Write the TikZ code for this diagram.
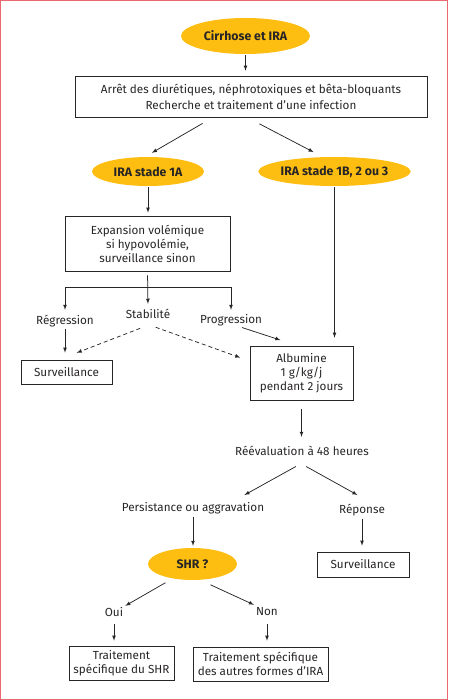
\documentclass[tikz,border=0pt]{standalone}
\usepackage{fontspec}
\setmainfont{Fira Sans}
\usetikzlibrary{shapes.geometric}
\tikzset{>=latex}
\definecolor{jaune}{RGB}{253,190,17}
\definecolor{gris}{RGB}{40,37,38}
\definecolor{cadre}{RGB}{236,104,112}
\tikzset{
  ovale/.style={ellipse,fill=jaune,inner sep=0pt,font=\fontsize{12.3}{14}\selectfont\bfseries},
  boite/.style={draw=gris,line width=0.7pt,align=center,inner sep=0pt},
  etiquette/.style={inner sep=2pt,text height=8pt,text depth=2pt},
  fleche/.style={->,draw=gris,line width=0.75pt},
  pointille/.style={fleche,dash pattern=on 4pt off 3pt}
}

\begin{document}
\begin{tikzpicture}[x=1pt,y=-1pt,font=\fontsize{11.7}{14}\selectfont,text=gris]
\useasboundingbox (0,0) rectangle (448,700);
\draw[cadre,line width=1pt] (0.5,0.5) rectangle (447.5,699.5); % 外框

% 节点
\node[ovale,minimum width=129pt,minimum height=36pt] (cirrhose) at (245.5,36) {Cirrhose et IRA};
\node[boite,minimum width=352pt,minimum height=41pt] (arret) at (251,96.5)
  {Arrêt des diurétiques, néphrotoxiques et bêta-bloquants\\[2pt]Recherche et traitement d’une infection};
\node[ovale,minimum width=112pt,minimum height=29pt] (ira1a) at (148,171.5) {IRA stade 1A};
\node[ovale,minimum width=141pt,minimum height=29pt] (ira1b) at (334.5,171.5) {IRA stade 1B, 2 ou 3};
\node[boite,minimum width=165pt,minimum height=55pt] (expansion) at (147.5,243.5)
  {Expansion volémique\\si hypovolémie,\\surveillance sinon};
\node[etiquette] (regression) at (65,321) {Régression};
\node[etiquette] (stabilite) at (148,315) {Stabilité};
\node[etiquette] (progression) at (231,320) {Progression};
\node[boite,minimum width=91pt,minimum height=24pt] (surveillanceA) at (66.5,372) {Surveillance};
\node[boite,minimum width=103pt,minimum height=54pt] (albumine) at (301.5,373)
  {Albumine\\1 g/kg/j\\pendant 2 jours};
\node[etiquette] (reeval) at (302,452) {Réévaluation à 48 heures};
\node[etiquette] (persistance) at (193,508) {Persistance ou aggravation};
\node[etiquette] (reponse) at (362,510) {Réponse};
\node[ovale,minimum width=89pt,minimum height=32pt] (shr) at (192.5,564) {SHR ?};
\node[boite,minimum width=92pt,minimum height=25pt] (surveillanceB) at (363,564.5) {Surveillance};
\node[etiquette] (oui) at (114,613) {Oui};
\node[etiquette] (non) at (267,612) {Non};
\node[boite,minimum width=105pt,minimum height=34pt] (traitementA) at (121.5,663)
  {Traitement\\spécifique du SHR};
\node[boite,minimum width=135pt,minimum height=34pt] (traitementB) at (260.5,664)
  {Traitement spécifique\\des autres formes d’IRA};

% 连线
\draw[fleche,shorten <=1pt,shorten >=5pt] (cirrhose.south) -- (cirrhose.south |- arret.north);
\draw[fleche,shorten <=12pt,shorten >=8pt] ([xshift=-38]arret.south) -- ([xshift=-3]ira1a.north);
\draw[fleche,shorten <=14pt,shorten >=10pt] ([xshift=-4]arret.south) -- ([xshift=-12]ira1b.north);
\draw[fleche,shorten <=1pt,shorten >=3pt] (ira1a.south) -- (ira1a.south |- expansion.north);
\draw[fleche,shorten <=1pt,shorten >=8pt] (ira1b.south) -- (ira1b.south |- albumine.north);

\coordinate (embranchement) at (148,287); % 分叉点
\draw[fleche,shorten <=4pt,shorten >=4pt] (expansion.south) -- (stabilite.north);
\draw[gris,line width=0.75pt] (embranchement -| regression) -- (embranchement -| progression);
\draw[fleche,shorten >=4pt] (embranchement -| regression) -- (regression.north);
\draw[fleche,shorten >=3pt] (embranchement -| progression) -- (progression.north);

\draw[fleche,shorten <=1pt,shorten >=7pt] (regression.south) -- (regression.south |- surveillanceA.north);
\draw[pointille,shorten <=17pt,shorten >=19pt] ([xshift=8]stabilite.south) -- ([xshift=-7.5]surveillanceA.north);
\draw[pointille,shorten <=15pt,shorten >=10pt] ([xshift=-6.4]stabilite.south) -- ([yshift=12]albumine.west);
\draw[fleche,shorten <=1pt,shorten >=18pt] ([xshift=10]progression.south) -- ([xshift=-4]albumine.north);

\draw[fleche,shorten <=9pt,shorten >=8pt] (albumine.south) -- (albumine.south |- reeval.north);
\draw[fleche,shorten <=15pt,shorten >=12pt] ([xshift=7]reeval.south) -- ([xshift=41]persistance.north);
\draw[fleche,shorten <=15pt,shorten >=16pt] ([xshift=-9]reeval.south) -- ([xshift=9.5]reponse.north);
\draw[fleche,shorten <=2pt,shorten >=2pt] (persistance.south) -- (persistance.south |- shr.north);
\draw[fleche,shorten <=2pt,shorten >=6pt] (reponse.south) -- (reponse.south |- surveillanceB.north);
\draw[fleche,shorten <=5pt] ([xshift=-22.7]shr.south) -- (oui.north east);
\draw[fleche,shorten <=11pt] ([xshift=8]shr.south) -- (non.north west);
\draw[fleche,shorten <=4pt,shorten >=5pt] (oui.south) -- (oui.south |- traitementA.north);
\draw[fleche,shorten <=5pt,shorten >=6pt] (non.south) -- (non.south |- traitementB.north);
\end{tikzpicture}
\end{document}
